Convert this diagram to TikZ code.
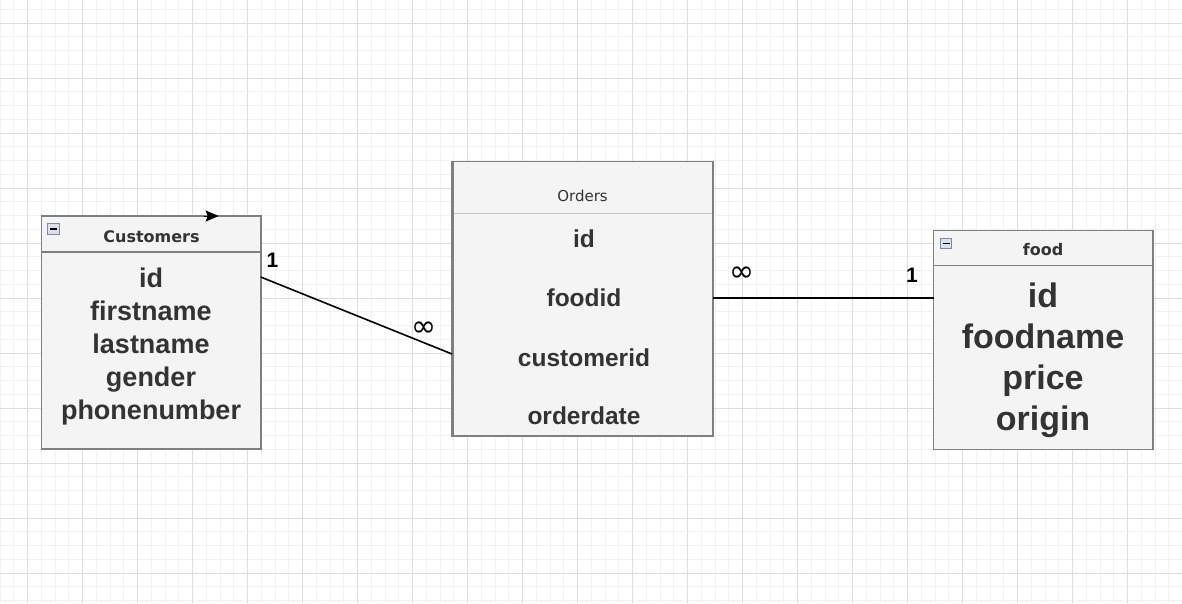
\documentclass[tikz,border=0pt]{standalone}
\usepackage{fontspec}
\setmainfont{Liberation Sans}
\newfontfamily\dv{DejaVu Sans}
\usetikzlibrary{arrows.meta}
\definecolor{boxfill}{HTML}{F4F4F4}
\definecolor{boxline}{HTML}{7F7F7F}
\definecolor{sepline}{HTML}{C4C4C4}
\definecolor{txt}{HTML}{333333}
\definecolor{gridminor}{HTML}{F2F2F2}
\definecolor{gridmajor}{HTML}{DDDDDD}
\definecolor{iconline}{HTML}{8089A0}
\definecolor{iconfill}{HTML}{DDE0E8}
\tikzset{
  tbl/.style={draw=boxline, fill=boxfill, line width=1.8pt, inner sep=0pt, outer sep=0pt, anchor=north west},
  hdr/.style={draw=boxline, line width=1.6pt},
  ttl/.style={text=txt, anchor=base, inner sep=0pt, font=\dv\bfseries\fontsize{16}{19}\selectfont},
  cfield/.style={text=txt, anchor=base, inner sep=0pt, font=\bfseries\fontsize{27}{32}\selectfont},
  ofield/.style={text=txt, anchor=base, inner sep=0pt, font=\bfseries\fontsize{24.5}{29}\selectfont},
  ffield/.style={text=txt, anchor=base, inner sep=0pt, font=\bfseries\fontsize{34}{40}\selectfont},
  icon/.style={draw=iconline, fill=iconfill, line width=1.1pt, inner sep=0pt, outer sep=0pt, minimum width=11.5pt, minimum height=10.5pt},
  conn/.style={draw=black, line width=1.6pt},
  one/.style={text=black, inner sep=0pt, font=\bfseries\fontsize{21}{24}\selectfont},
  many/.style={text=black, inner sep=0pt, font=\dv\fontsize{30}{34}\selectfont},
}
\begin{document}
\begin{tikzpicture}[x=1pt,y=-1pt]
\useasboundingbox (0,0) rectangle (1182,603);
\fill[white] (0,0) rectangle (1182,603);
% grid
\foreach \i in {0,...,86} \draw[gridminor, line width=1pt] (\i*13.75,0) -- (\i*13.75,603);
\foreach \j in {0,...,43} \draw[gridminor, line width=1pt] (0,9.25+\j*13.75) -- (1182,9.25+\j*13.75);
\foreach \i in {0,...,21} \draw[gridmajor, line width=1pt] (27.5+\i*55,0) -- (27.5+\i*55,603);
\foreach \j in {0,...,10} \draw[gridmajor, line width=1pt] (0,23+\j*55) -- (1182,23+\j*55);

% Customers
\node[tbl, minimum width=219.2pt, minimum height=233pt] (cust) at (41.5,216) {};
\draw[hdr] ([yshift=-35.7pt]cust.north west) -- ([yshift=-35.7pt]cust.north east);
\node[icon] (custicon) at (53.5,228.8) {};
\draw[black, line width=1.4pt] ([xshift=-3.5pt]custicon.center) -- ([xshift=3.5pt]custicon.center);
\node[ttl] (custttl) at (151.5,242) {Customers};
\node[cfield] (c1) at (151,287) {id};
\node[cfield] (c2) at (151,320) {firstname};
\node[cfield] (c3) at (151,353) {lastname};
\node[cfield] (c4) at (151,386) {gender};
\node[cfield] (c5) at (151,419) {phonenumber};
\coordinate (arrtail) at (204,216);
\draw[black, line width=1pt, -{Stealth[length=13pt,width=11pt,inset=2pt]}] (arrtail) -- ([xshift=-42pt]cust.north east);

% Orders
\node[tbl, minimum width=261pt, minimum height=274.5pt] (ord) at (452,161.5) {};
\draw[sepline, line width=1.4pt] ([yshift=-52pt,xshift=1pt]ord.north west) -- ([yshift=-52pt,xshift=-1pt]ord.north east);
\draw[boxline, line width=1.2pt] ([xshift=1.8pt]ord.north west) -- ([xshift=1.8pt]ord.south west);
\node[ttl, font=\dv\fontsize{15}{18}\selectfont] (ordttl) at (582.5,201) {Orders};
\node[ofield] (o1) at (584,247) {id};
\node[ofield] (o2) at (584,306) {foodid};
\node[ofield] (o3) at (584,366) {customerid};
\node[ofield] (o4) at (584,424) {orderdate};

% food
\node[tbl, minimum width=219.8pt, minimum height=219pt] (food) at (933.5,230.5) {};
\draw[hdr] ([yshift=-35pt]food.north west) -- ([yshift=-35pt]food.north east);
\node[icon] (foodicon) at (946,243.6) {};
\draw[black, line width=1.4pt] ([xshift=-3.5pt]foodicon.center) -- ([xshift=3.5pt]foodicon.center);
\node[ttl] (foodttl) at (1043,255) {food};
\node[ffield] (f1) at (1043,307) {id};
\node[ffield] (f2) at (1043,348) {foodname};
\node[ffield] (f3) at (1043,389) {price};
\node[ffield] (f4) at (1043,430) {origin};

% connectors
\draw[conn] ([yshift=-61pt]cust.north east) -- ([yshift=-192.5pt]ord.north west);
\draw[conn] ([yshift=-136.5pt]ord.north east) -- ([yshift=-67.5pt]food.north west);
\node[one] (l1) at (272.5,260.5) {1};
\node[many] (l2) at (424,329) {∞};
\node[many] (l3) at (742,274) {∞};
\node[one] (l4) at (912,275.5) {1};
\end{tikzpicture}
\end{document}
